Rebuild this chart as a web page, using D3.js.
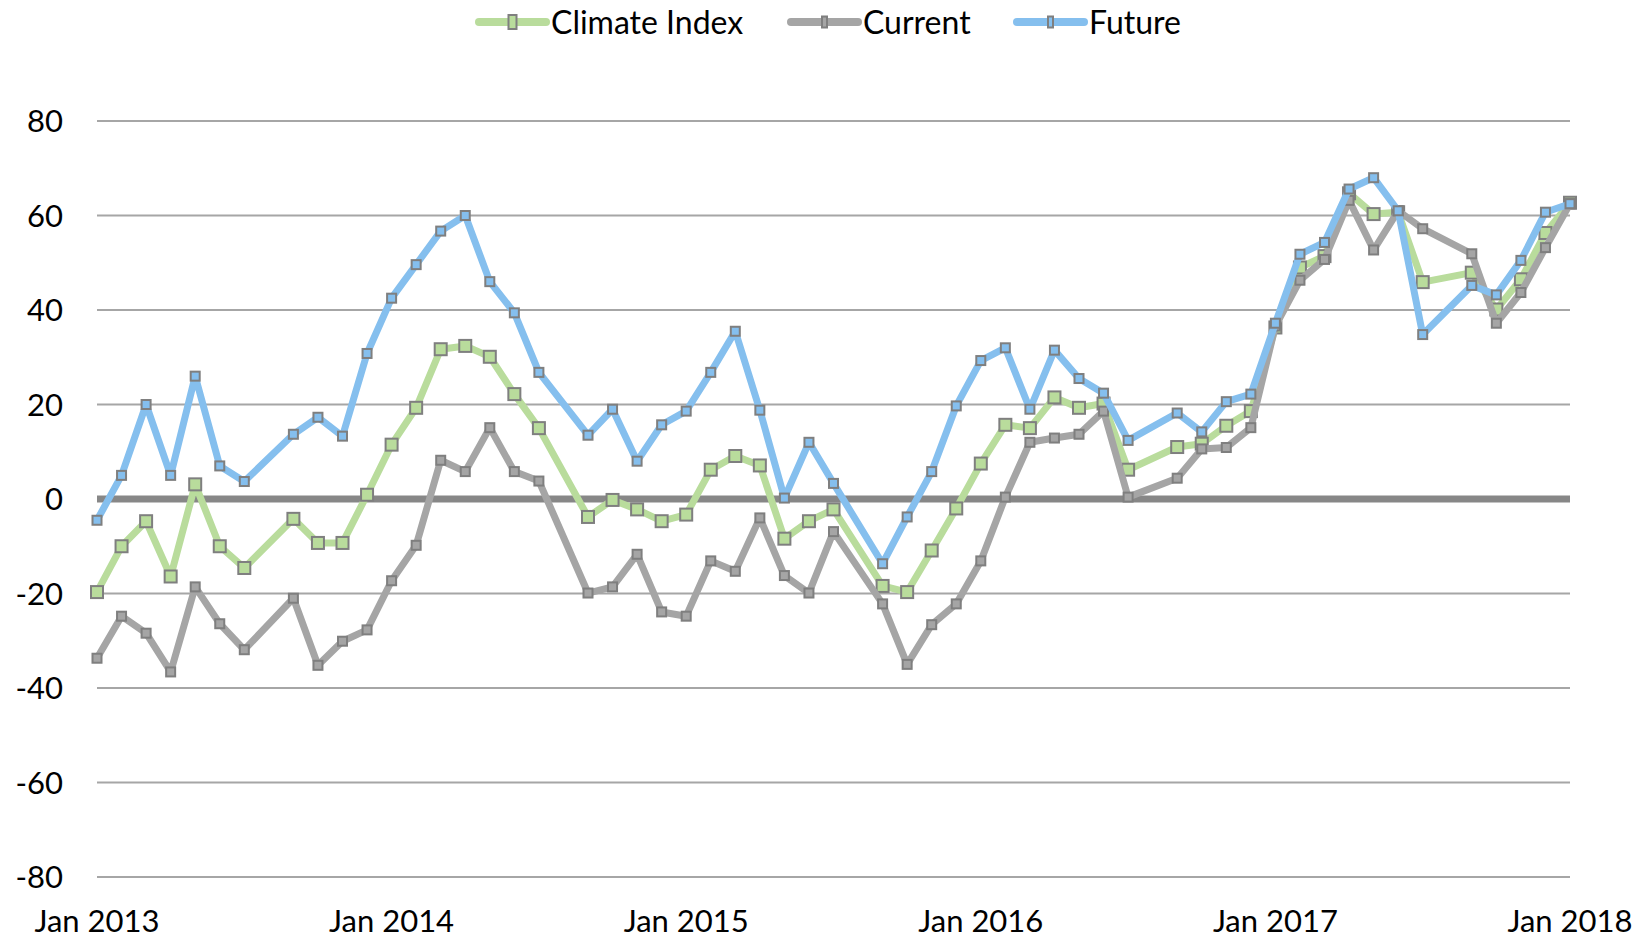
<!DOCTYPE html>
<html>
<head>
<meta charset="utf-8">
<script src="https://cdn.jsdelivr.net/npm/d3@7"></script>
<style>
  body { margin: 0; background: #fff; }
  text { font-family: Lato, "Open Sans", sans-serif; fill: #000; }
</style>
</head>
<body>
<div id="chart"></div>
<script>
var width = 1641;
var height = 941;

// months shown (August is missing each year)
var months = [
  "2013-01","2013-02","2013-03","2013-04","2013-05","2013-06","2013-07","2013-09","2013-10","2013-11","2013-12",
  "2014-01","2014-02","2014-03","2014-04","2014-05","2014-06","2014-07","2014-09","2014-10","2014-11","2014-12",
  "2015-01","2015-02","2015-03","2015-04","2015-05","2015-06","2015-07","2015-09","2015-10","2015-11","2015-12",
  "2016-01","2016-02","2016-03","2016-04","2016-05","2016-06","2016-07","2016-09","2016-10","2016-11","2016-12",
  "2017-01","2017-02","2017-03","2017-04","2017-05","2017-06","2017-07","2017-09","2017-10","2017-11","2017-12",
  "2018-01"
];

var climateIndex = [
  -19.7, -10, -4.7, -16.4, 3.1, -10, -14.6, -4.2, -9.3, -9.3, 0.9,
  11.5, 19.3, 31.7, 32.4, 30.1, 22.2, 15, -3.8, -0.2, -2.2, -4.7,
  -3.3, 6.2, 9.1, 7.1, -8.4, -4.7, -2.2, -18.4, -19.7, -10.9, -2,
  7.5, 15.7, 15, 21.5, 19.3, 20.2, 6.2, 11, 11.7, 15.5, 18.6,
  36.3, 49, 51.4, 64.7, 60.3, 60.7, 45.9, 47.9, 40.1, 46.5, 56.3,
  62.7
];

var current = [
  -33.7, -24.8, -28.4, -36.6, -18.6, -26.4, -31.9, -21, -35.2, -30.1, -27.7,
  -17.3, -9.8, 8.2, 5.8, 15.1, 5.8, 3.8, -19.9, -18.6, -11.7, -23.9,
  -24.8, -13.1, -15.3, -4, -16.2, -19.9, -6.9, -22.2, -35, -26.6, -22.2,
  -13.1, 0.4, 12, 12.9, 13.7, 18.6, 0.4, 4.4, 10.6, 10.9, 15.1,
  36.6, 46.3, 50.7, 63.2, 52.7, 61, 57.2, 51.9, 37.2, 43.7, 53.2,
  62.5
];

var future = [
  -4.5, 5, 20, 5, 26, 7, 3.7, 13.7, 17.3, 13.3, 30.8,
  42.5, 49.6, 56.7, 60, 46, 39.4, 26.8, 13.5, 19, 8, 15.7,
  18.6, 26.8, 35.5, 18.8, 0.2, 12, 3.3, -13.7, -3.8, 5.8, 19.7,
  29.3, 32, 19, 31.5, 25.5, 22.4, 12.4, 18.2, 14.2, 20.6, 22.2,
  37.2, 51.8, 54.3, 65.6, 68, 61, 34.8, 45.2, 43.2, 50.5, 60.7,
  62.5
];

var yTicks = [-80, -60, -40, -20, 0, 20, 40, 60, 80];
var xTickLabels = ["Jan 2013", "Jan 2014", "Jan 2015", "Jan 2016", "Jan 2017", "Jan 2018"];

var series = [
  { name: "Climate Index", values: climateIndex, color: "#b9dc9c", size: 12 },
  { name: "Current", values: current, color: "#a5a5a5", size: 9 },
  { name: "Future", values: future, color: "#85bfee", size: 9 }
];

// month index from Jan 2013
function monthIndex(s) {
  var p = s.split("-");
  return (+p[0] - 2013) * 12 + (+p[1] - 1);
}

var svg = d3.select("#chart").append("svg")
  .attr("width", width)
  .attr("height", height);

var x = d3.scaleLinear().domain([0, 60]).range([97, 1570]);
var y = d3.scaleLinear().domain([-80, 80]).range([877, 121]);

// gridlines
svg.append("g").selectAll("line.grid")
  .data(yTicks.filter(function(d) { return d != 0; }))
  .enter().append("line")
  .attr("class", "grid")
  .attr("x1", x(0)).attr("x2", x(60))
  .attr("y1", function(d) { return y(d); })
  .attr("y2", function(d) { return y(d); })
  .style("stroke", "#a6a6a6")
  .style("stroke-width", 2);

// y labels
svg.append("g").selectAll("text")
  .data(yTicks)
  .enter().append("text")
  .attr("x", 63)
  .attr("y", function(d) { return y(d); })
  .attr("dy", "0.36em")
  .attr("text-anchor", "end")
  .style("font-size", "31px")
  .text(function(d) { return d; });

// x labels
svg.append("g").selectAll("text")
  .data(xTickLabels)
  .enter().append("text")
  .attr("x", function(d, i) { return x(i * 12); })
  .attr("y", 921)
  .attr("dy", "0.36em")
  .attr("text-anchor", "middle")
  .style("font-size", "31px")
  .text(function(d) { return d; });

// zero line
svg.append("line")
  .attr("x1", x(0)).attr("x2", x(60))
  .attr("y1", y(0)).attr("y2", y(0))
  .style("stroke", "#878787")
  .style("stroke-width", 7);

var line = d3.line()
  .x(function(d) { return x(d.m); })
  .y(function(d) { return y(d.v); });

series.forEach(function(s) {
  var pts = months.map(function(m, i) { return { m: monthIndex(m), v: s.values[i] }; });
  svg.append("path")
    .attr("d", line(pts))
    .style("fill", "none")
    .style("stroke", s.color)
    .style("stroke-width", 7)
    .style("stroke-linejoin", "round")
    .style("stroke-linecap", "round");

  svg.append("g").selectAll("rect")
    .data(pts)
    .enter().append("rect")
    .attr("x", function(d) { return x(d.m) - s.size / 2; })
    .attr("y", function(d) { return y(d.v) - s.size / 2; })
    .attr("width", s.size)
    .attr("height", s.size)
    .style("fill", s.color)
    .style("stroke", "#7f7f7f")
    .style("stroke-width", 2);
});

// legend
var legendX = [479, 791, 1017];
var legend = svg.append("g").selectAll("g")
  .data(series)
  .enter().append("g")
  .attr("transform", function(d, i) { return "translate(" + legendX[i] + ",22)"; });

legend.append("line")
  .attr("x1", 0).attr("x2", 67)
  .attr("y1", 0).attr("y2", 0)
  .style("stroke", function(d) { return d.color; })
  .style("stroke-width", 8)
  .style("stroke-linecap", "round");

legend.append("rect")
  .attr("x", function(d) { return 33.5 - (d.size - 4) / 2; })
  .attr("y", function(d) { return -d.size / 2 - 1; })
  .attr("width", function(d) { return d.size - 4; })
  .attr("height", function(d) { return d.size + 2; })
  .style("fill", function(d) { return d.color; })
  .style("stroke", "#7f7f7f")
  .style("stroke-width", 2);

legend.append("text")
  .attr("x", 72)
  .attr("y", 0)
  .attr("dy", "0.36em")
  .style("font-size", "32px")
  .text(function(d) { return d.name; });
</script>
</body>
</html>
